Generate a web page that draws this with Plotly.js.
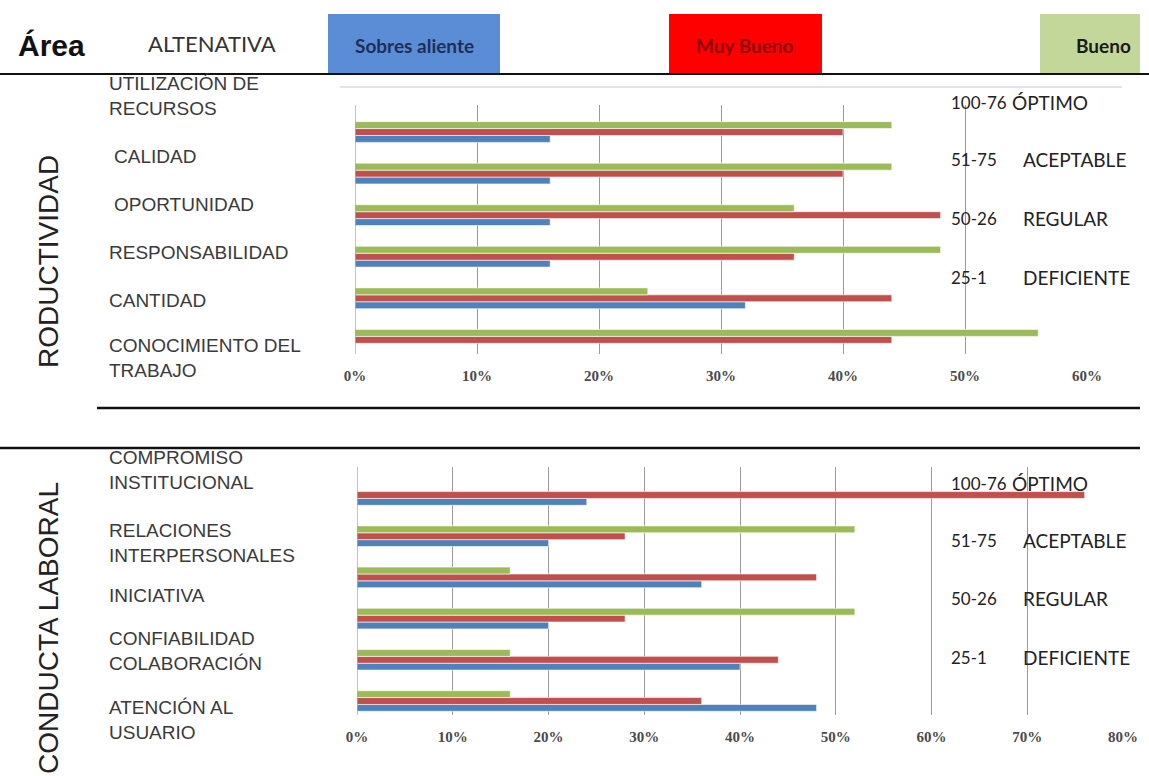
<!DOCTYPE html>
<html>
<head>
<meta charset="utf-8">
<script src="https://cdn.plot.ly/plotly-3.0.1.min.js"></script>
<style>
  html, body { margin: 0; padding: 0; background: #fff; }
  #chart { width: 1149px; height: 776px; }
</style>
</head>
<body>
<div id="chart"></div>
<script>
// Evaluation results (%), per area, three rating levels
const seriesNames = ["Sobresaliente", "Muy Bueno", "Bueno"];
const seriesColors = ["#4F81BD", "#C0504D", "#9BBB59"];

// PRODUCTIVIDAD (listed bottom to top)
const prodCategories = ["CONOCIMIENTO DEL TRABAJO", "CANTIDAD", "RESPONSABILIDAD",
                        "OPORTUNIDAD", "CALIDAD", "UTILIZACIÓN DE RECURSOS"];
const prodSobresaliente = [0, 32, 16, 16, 16, 16];
const prodMuyBueno      = [44, 44, 36, 48, 40, 40];
const prodBueno         = [56, 24, 48, 36, 44, 44];

// CONDUCTA LABORAL (listed bottom to top)
const condCategories = ["ATENCIÓN AL USUARIO", "COLABORACIÓN", "CONFIABILIDAD",
                        "INICIATIVA", "RELACIONES INTERPERSONALES", "COMPROMISO INSTITUCIONAL"];
const condSobresaliente = [48, 40, 20, 36, 20, 24];
const condMuyBueno      = [36, 44, 28, 48, 28, 76];
const condBueno         = [16, 16, 52, 16, 52, 0];

// Row labels printed left of each chart (top to bottom)
const prodLabels = ["UTILIZACIÓN DE<br>RECURSOS", "CALIDAD", "OPORTUNIDAD",
                    "RESPONSABILIDAD", "CANTIDAD", "CONOCIMIENTO DEL<br>TRABAJO"];
const condLabels = ["COMPROMISO<br>INSTITUCIONAL", "RELACIONES<br>INTERPERSONALES", "INICIATIVA",
                    "CONFIABILIDAD<br>COLABORACIÓN", "ATENCIÓN AL<br>USUARIO"];

// Tick labels
const prodTicks = [0, 10, 20, 30, 40, 50, 60];
const condTicks = [0, 10, 20, 30, 40, 50, 60, 70, 80];

// Rating scale
const scaleRanges = ["100-76", "51-75", "50-26", "25-1"];
const scaleNames  = ["ÓPTIMO", "ACEPTABLE", "REGULAR", "DEFICIENTE"];

// Header texts
const areaTitle = "Área";
const altTitle = "ALTENATIVA";
const headerBoxes = ["Sobres aliente", "Muy Bueno", "Bueno"];
const areaNames = ["RODUCTIVIDAD", "CONDUCTA LABORAL"];

const W = 1149, H = 776;
const px = x => x / W;
const py = y => 1 - y / H;

const sans = "'Liberation Sans', Arial, sans-serif";
const calib = "Lato, 'Open Sans', sans-serif";
const tickFont = { family: "'Liberation Serif', serif", size: 15, color: "#4a4a4a", weight: "bold" };

function barTrace(vals, cats, i, xa, ya) {
  return {
    type: "bar", orientation: "h",
    x: vals, y: cats, name: seriesNames[i],
    xaxis: xa, yaxis: ya,
    marker: { color: seriesColors[i], line: { color: "rgba(255,255,255,0.75)", width: 0.8 } },
    hoverinfo: "x+y", showlegend: false
  };
}

const data = [
  barTrace(prodSobresaliente, prodCategories, 0, "x", "y"),
  barTrace(prodMuyBueno, prodCategories, 1, "x", "y"),
  barTrace(prodBueno, prodCategories, 2, "x", "y"),
  barTrace(condSobresaliente, condCategories, 0, "x2", "y2"),
  barTrace(condMuyBueno, condCategories, 1, "x2", "y2"),
  barTrace(condBueno, condCategories, 2, "x2", "y2")
];

const annotations = [];
function addText(text, x, y, font, opts) {
  annotations.push(Object.assign({
    text, x: px(x), y: py(y), xref: "paper", yref: "paper",
    showarrow: false, xanchor: "left", yanchor: "middle", font, align: "left"
  }, opts || {}));
}

// Header
addText(areaTitle, 16, 45, { family: sans, size: 30, color: "#111", weight: "bold" });
addText(altTitle, 146, 43, { family: calib, size: 22, color: "#333" });
const boxCenters = [414, 745, 1103];
const boxTextColors = ["#1F2D5A", "#8B0000", "#1A1A1A"];
headerBoxes.forEach((t, i) => addText(t, boxCenters[i], 45,
  { family: calib, size: 19, color: boxTextColors[i], weight: "bold" }, { xanchor: "center" }));

// Area titles (vertical)
addText(areaNames[0], 48, 262, { family: sans, size: 28, color: "#222" }, { xanchor: "center", textangle: -90 });
addText(areaNames[1], 48, 628, { family: sans, size: 28, color: "#222" }, { xanchor: "center", textangle: -90 });

// Row labels
const labelFont = { family: sans, size: 19, color: "#3a3a3a" };
const prodLabelRows = [96, 157, 205, 253, 301, 358];
const prodLabelX = [107, 112, 112, 107, 107, 107];
prodLabels.forEach((t, i) => addText(t, prodLabelX[i], prodLabelRows[i], labelFont));
const condLabelRows = [470, 543, 595, 651, 720];
condLabels.forEach((t, i) => addText(t, 107, condLabelRows[i], labelFont));

// Rating scale beside each chart
const rangeFont = { family: calib, size: 17, color: "#222" };
const scaleFont = { family: calib, size: 19, color: "#222" };
const scaleRowsTop = [103, 160, 218, 277];
const scaleRowsBottom = [483, 540, 598, 657];
[scaleRowsTop, scaleRowsBottom].forEach(rows => {
  rows.forEach((r, i) => {
    addText(scaleRanges[i], 949, r, rangeFont);
    addText(scaleNames[i], i === 0 ? 1010 : 1021, r, scaleFont);
  });
});

const lineShape = (x0, y0, x1, y1, color, width) => ({
  type: "line", xref: "paper", yref: "paper",
  x0: px(x0), y0: py(y0), x1: px(x1), y1: py(y1), line: { color, width }
});
const rectShape = (x0, y0, x1, y1, fill) => ({
  type: "rect", xref: "paper", yref: "paper", layer: "below",
  x0: px(x0), y0: py(y0), x1: px(x1), y1: py(y1), fillcolor: fill, line: { width: 0 }
});

const shapes = [
  rectShape(328, 14, 500, 74, "#5A8DD6"),
  rectShape(669, 14, 822, 74, "#FF0000"),
  rectShape(1040, 14, 1140, 74, "#C4D79B"),
  lineShape(0, 74, 1149, 74, "#111", 2),
  lineShape(340, 87, 1122, 87, "#d3dbe3", 1.5),
  lineShape(97, 408, 1140, 408, "#111", 2.5),
  lineShape(0, 448, 1140, 448, "#111", 2.5)
];

const axisCommon = {
  showgrid: true, gridcolor: "#9a9a9a", gridwidth: 1,
  zeroline: false, showline: false, ticks: "",
  tickfont: tickFont, tickmode: "array",
  ticklabelstandoff: 11, fixedrange: true
};
const yCommon = {
  type: "category", showgrid: false, zeroline: false,
  showticklabels: false, showline: false, ticks: "", fixedrange: true
};

const layout = {
  width: W, height: H,
  margin: { l: 0, r: 0, t: 0, b: 0 },
  paper_bgcolor: "#fff", plot_bgcolor: "rgba(0,0,0,0)",
  barmode: "group", bargap: 0.5, bargroupgap: 0,
  showlegend: false,
  xaxis: Object.assign({}, axisCommon, {
    domain: [px(355), px(1087)], range: [0, 60],
    tickvals: prodTicks, ticktext: prodTicks.map(v => v + "%"), anchor: "y"
  }),
  yaxis: Object.assign({}, yCommon, {
    domain: [py(354), py(105)], range: [-0.34, 5.65],
    categoryorder: "array", categoryarray: prodCategories, anchor: "x"
  }),
  xaxis2: Object.assign({}, axisCommon, {
    domain: [px(357), px(1123)], range: [0, 80],
    tickvals: condTicks, ticktext: condTicks.map(v => v + "%"), anchor: "y2"
  }),
  yaxis2: Object.assign({}, yCommon, {
    domain: [py(715), py(467)], range: [-0.34, 5.68],
    categoryorder: "array", categoryarray: condCategories, anchor: "x2"
  }),
  annotations, shapes
};

// Vertical axis line at 0% for each chart
layout.shapes.push(
  { type: "line", xref: "x", yref: "paper", x0: 0, x1: 0, y0: py(354), y1: py(105), line: { color: "#9a9a9a", width: 1.2 } },
  { type: "line", xref: "x2", yref: "paper", x0: 0, x1: 0, y0: py(715), y1: py(467), line: { color: "#9a9a9a", width: 1.2 } }
);

Plotly.newPlot("chart", data, layout, { displayModeBar: false, staticPlot: true });
</script>
</body>
</html>
